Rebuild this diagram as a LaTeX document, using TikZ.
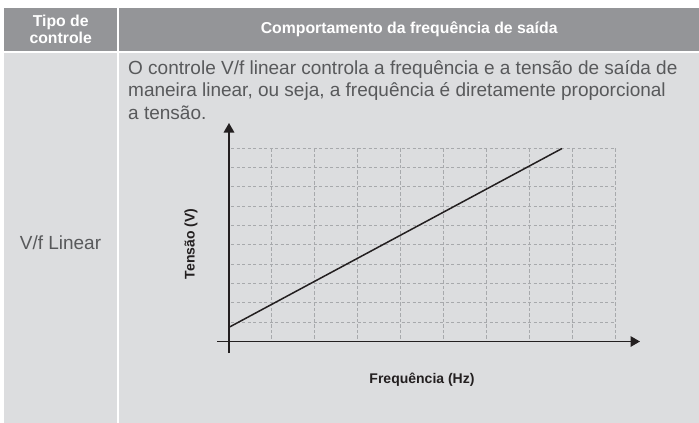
\documentclass[tikz,border=0pt]{standalone}
\usepackage{fontspec}
\setmainfont{Liberation Sans}
\usetikzlibrary{arrows.meta}
\definecolor{hdrgray}{HTML}{949598}
\definecolor{cellgray}{HTML}{DCDDDF}
\definecolor{txtgray}{HTML}{58595B}
\definecolor{gridgray}{HTML}{A7A9AC}
\definecolor{ink}{HTML}{231F20}
\tikzset{
  hdr/.style={fill=hdrgray, text=white, inner sep=0pt, anchor=north west, align=center,
    font=\fontsize{15.8}{17}\selectfont\bfseries},
  cell/.style={fill=cellgray, inner sep=0pt, anchor=north west},
  axis/.style={ink, line width=1.6pt, -{Triangle[width=10.5pt,length=9.5pt]}},
  gridln/.style={gridgray, line width=0.9pt, dash pattern=on 3.3pt off 2.2pt},
  axlabel/.style={ink, font=\fontsize{14}{16}\selectfont\bfseries}
}
\begin{document}
\begin{tikzpicture}[x=1pt, y=-1pt]
  \useasboundingbox[fill=white] (0,0) rectangle (699,423);
  % table
  \node[hdr, minimum width=113pt, minimum height=43pt] (h1) at (4,8) {Tipo de\\controle};
  \node[hdr, minimum width=580pt, minimum height=43pt] (h2) at (119,8) {Comportamento da frequência de saída};
  \node[cell, minimum width=113pt, minimum height=370pt] (b1) at (4,53) {};
  \node[cell, minimum width=580pt, minimum height=370pt] (b2) at (119,53) {};
  \node[txtgray, font=\fontsize{19}{21}\selectfont] (mode) at (60.5,243) {V/f Linear};
  \node[txtgray, anchor=north west, align=left, inner sep=0pt,
    font=\fontsize{19}{21}\selectfont] (desc) at (128,60)
    {O controle V/f linear controla a frequência e a tensão de saída de\\[1.5pt]
     maneira linear, ou seja, a frequência é diretamente proporcional\\[1.5pt]
     a tensão.};
  % grid
  \foreach \i in {1,...,9}
    \draw[gridln] ({229+42.9*\i},148.3) -- ({229+42.9*\i},341);
  \foreach \j in {0,...,9}
    \draw[gridln] (231,{148.3+19.3*\j}) -- (615,{148.3+19.3*\j});
  % axes
  \coordinate (ybot) at (229,353);
  \coordinate (ytop) at (229,123);
  \coordinate (xlft) at (217,341.5);
  \coordinate (xrgt) at (640,341.5);
  \draw[axis] (ybot) -- (ytop);
  \draw[axis] (xlft) -- (xrgt);
  % V/f line
  \coordinate (v0) at (229,327.3);
  \coordinate (v1) at (562,148.5);
  \draw[ink, line width=1.5pt] (v0) -- (v1);
  \node[axlabel, rotate=90] (ylab) at (191,244) {Tensão (V)};
  \node[axlabel] (xlab) at (422,380) {Frequência (Hz)};
\end{tikzpicture}
\end{document}
